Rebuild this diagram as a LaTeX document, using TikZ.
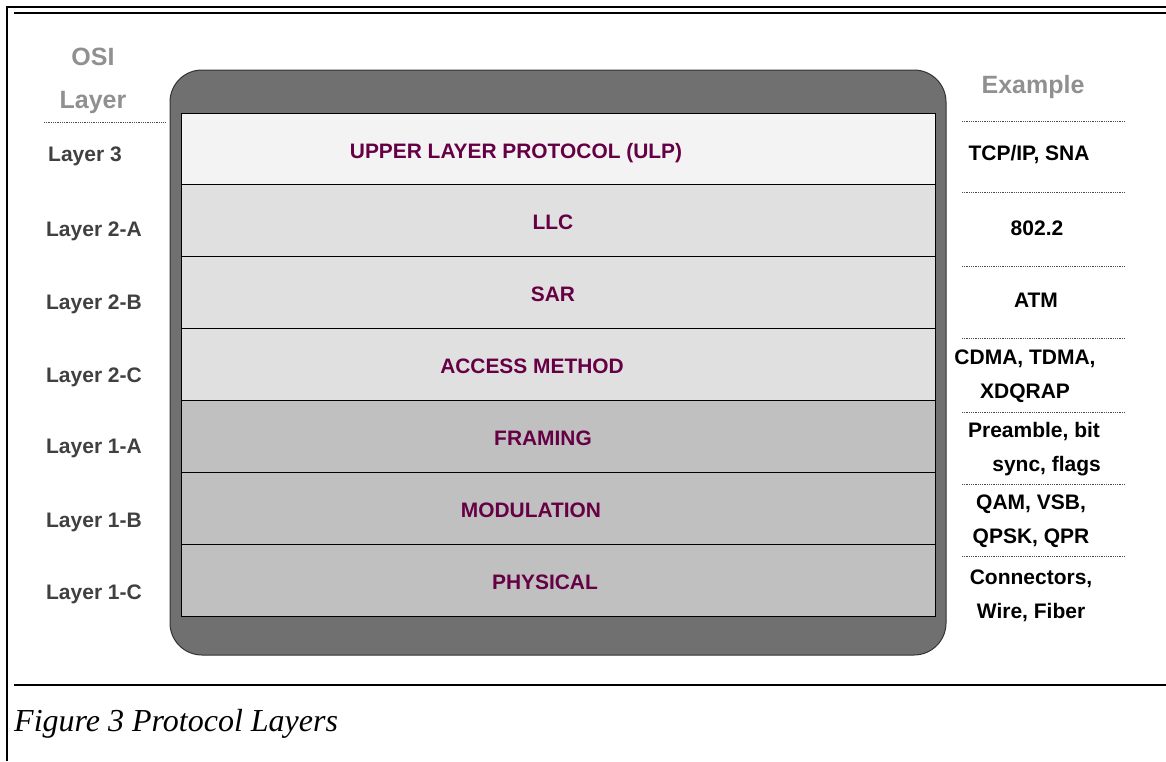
\documentclass[tikz,border=0pt]{standalone}
\usepackage{fontspec}
\setmainfont{Liberation Serif}
\setsansfont{Liberation Sans}
\usetikzlibrary{positioning}
\definecolor{casegray}{HTML}{707070}
\definecolor{ulpgray}{HTML}{F3F3F3}
\definecolor{midgray}{HTML}{E0E0E0}
\definecolor{lowgray}{HTML}{C0C0C0}
\definecolor{maroon}{HTML}{660044}
\definecolor{headgray}{HTML}{909090}
\definecolor{osigray}{HTML}{404040}

\begin{document}
\begin{tikzpicture}[
    x=1pt, y=-1pt,
    band/.style={draw=black, line width=1pt, minimum width=754pt,
        minimum height=71.9pt, inner sep=0pt, outer sep=0pt},
    proto/.style={font=\sffamily\bfseries\fontsize{20.9}{24}\selectfont,
        text=maroon, text height=15pt, text depth=0pt, yshift=-1.5pt},
    osi/.style={font=\sffamily\bfseries\fontsize{21}{24}\selectfont,
        text=osigray},
    example/.style={font=\sffamily\bfseries\fontsize{21}{34}\selectfont,
        align=center},
    header/.style={font=\sffamily\bfseries\fontsize{25}{43}\selectfont,
        text=headgray, align=center},
    rule/.style={densely dotted, line width=0.8pt, black!70}
]
    \useasboundingbox (0,0) rectangle (1166,761);
    % frame
    \draw[line width=2.5pt] (7,761) -- (7,7) -- (1166,7);
    \draw[line width=2pt] (14,13) -- (1166,13);
    \draw[line width=2pt] (14,685) -- (1166,685);
    % case
    \draw[fill=casegray, draw=black!80, line width=1pt, rounded corners=32pt]
        (170,70) rectangle (946,655);
    % layers
    \node[band, fill=ulpgray] (ulp) at (558,149) {};
    \node[band, fill=midgray, below=0pt of ulp] (llc) {};
    \node[band, fill=midgray, below=0pt of llc] (sar) {};
    \node[band, fill=midgray, below=0pt of sar] (access) {};
    \node[band, fill=lowgray, below=0pt of access] (framing) {};
    \node[band, fill=lowgray, below=0pt of framing] (modulation) {};
    \node[band, fill=lowgray, below=0pt of modulation] (physical) {};
    \node[proto, xshift=-42pt] at (ulp) {UPPER LAYER PROTOCOL (ULP)};
    \node[proto, xshift=-5pt] at (llc) {LLC};
    \node[proto, xshift=-5pt] at (sar) {SAR};
    \node[proto, xshift=-26pt] at (access) {ACCESS METHOD};
    \node[proto, xshift=-15pt] at (framing) {FRAMING};
    \node[proto, xshift=-27pt] at (modulation) {MODULATION};
    \node[proto, xshift=-13pt] at (physical) {PHYSICAL};
    % OSI column
    \node[header] (osihead) at (93,81) {OSI\\Layer};
    \draw[rule] (44,122) -- (165,122);
    \node[osi] (l3) at (85,156) {Layer 3};
    \node[osi] (l2a) at (94,231) {Layer 2-A};
    \node[osi] (l2b) at (94,304) {Layer 2-B};
    \node[osi] (l2c) at (94,377) {Layer 2-C};
    \node[osi] (l1a) at (94,448) {Layer 1-A};
    \node[osi] (l1b) at (94,522) {Layer 1-B};
    \node[osi] (l1c) at (94,594) {Layer 1-C};
    % example column
    \node[header] (exhead) at (1033,87) {Example};
    \foreach \y in {121,192,266,338,412,484,556}
        \draw[rule] (962,\y) -- (1125,\y);
    \node[example] (ex3) at (1029,155) {TCP/IP, SNA};
    \node[example] (ex2a) at (1037,228) {802.2};
    \node[example] (ex2b) at (1036,300) {ATM};
    \node[example] (ex2c) at (1025,376) {CDMA, TDMA,\\XDQRAP};
    \node[example] (ex1a) at (1034,449) {Preamble, bit\\\hspace*{1.2em}sync, flags};
    \node[example] (ex1b) at (1031,521) {QAM, VSB,\\QPSK, QPR};
    \node[example] (ex1c) at (1031,596) {Connectors,\\Wire, Fiber};
    % caption
    \node[anchor=base west, inner sep=0pt, font=\itshape\fontsize{32}{36}\selectfont]
        (caption) at (14,731) {Figure 3 Protocol Layers};
\end{tikzpicture}
\end{document}
